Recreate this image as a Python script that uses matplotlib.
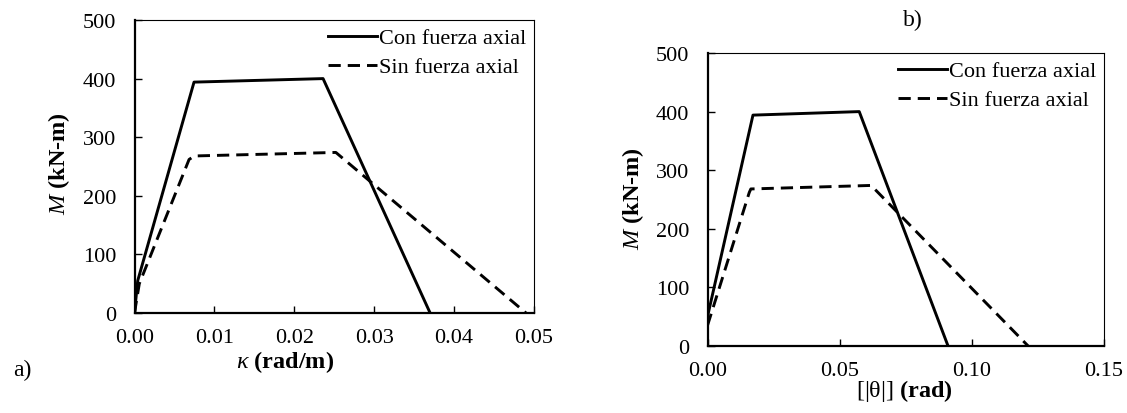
import matplotlib
matplotlib.use("Agg")
import matplotlib.pyplot as plt
from matplotlib.ticker import FormatStrFormatter

plt.rcParams['font.family'] = ['Liberation Serif', 'DejaVu Serif']
plt.rcParams['mathtext.fontset'] = 'custom'
plt.rcParams['mathtext.rm'] = 'Liberation Serif'
plt.rcParams['mathtext.it'] = 'Liberation Serif:italic'
plt.rcParams['mathtext.bf'] = 'Liberation Serif:bold'
plt.rcParams['font.size'] = 16

# a) moment-curvature
kappa_con = [0.0, 0.0004, 0.00745, 0.0236, 0.0370]
m_con_a = [0, 55, 394, 400, 0]
kappa_sin = [0.0, 0.0006, 0.00683, 0.0075, 0.0252, 0.0490]
m_sin_a = [0, 50, 262, 268, 274, 0]

# b) moment-rotation
theta_con = [0.0, 0.0172, 0.0574, 0.0910]
m_con_b = [50, 394, 400, 0]
theta_sin = [0.0, 0.0158, 0.0164, 0.0619, 0.1213]
m_sin_b = [35, 262, 268, 274, 0]

fig = plt.figure(figsize=(11.27, 4.14), dpi=100)
W, H = 1127, 414
ax1 = fig.add_axes([134.5 / W, 1 - 314 / H, 399.5 / W, 293 / H])
ax2 = fig.add_axes([707.5 / W, 1 - 347 / H, 396.5 / W, 293 / H])

dash = (0, (4.2, 2.4))
for ax in (ax1, ax2):
    ax.spines['left'].set_linewidth(1.6)
    ax.spines['bottom'].set_linewidth(1.6)
    ax.spines['top'].set_linewidth(0.8)
    ax.spines['right'].set_linewidth(0.8)
    ax.tick_params(axis='x', direction='in', length=5, width=1.0, pad=11)
    ax.tick_params(axis='y', direction='in', length=5, width=1.0, pad=13)
    ax.set_ylim(0, 500)
    ax.set_yticks([0, 100, 200, 300, 400, 500])

ax1.plot(kappa_con, m_con_a, color='black', lw=2.1, label='Con fuerza axial')
ax1.plot(kappa_sin, m_sin_a, color='black', lw=2.1, linestyle=dash, label='Sin fuerza axial')
ax1.set_xlim(0, 0.05)
ax1.set_xticks([0, 0.01, 0.02, 0.03, 0.04, 0.05])
ax1.xaxis.set_major_formatter(FormatStrFormatter('%.2f'))
ax1.set_xlabel(r'$\mathit{\kappa}$ $\mathbf{(rad/m)}$', fontsize=17.5, va='center')
ax1.xaxis.set_label_coords(0.377, -0.164)
ax1.set_ylabel(r'$\mathit{M}$ $\mathbf{(kN‐m)}$', fontsize=17.5, va='center')
ax1.yaxis.set_label_coords(-0.189, 0.515)

ax2.plot(theta_con, m_con_b, color='black', lw=2.1, label='Con fuerza axial')
ax2.plot(theta_sin, m_sin_b, color='black', lw=2.1, linestyle=dash, label='Sin fuerza axial')
ax2.set_xlim(0, 0.15)
ax2.set_xticks([0, 0.05, 0.10, 0.15])
ax2.xaxis.set_major_formatter(FormatStrFormatter('%.2f'))
ax2.set_xlabel(r'[|θ|] $\mathbf{(rad)}$', fontsize=17.5, va='center')
ax2.xaxis.set_label_coords(0.496, -0.150)
ax2.set_ylabel(r'$\mathit{M}$ $\mathbf{(kN‐m)}$', fontsize=17.5, va='center')
ax2.yaxis.set_label_coords(-0.188, 0.508)

for ax in (ax1, ax2):
    ax.legend(loc='upper right', frameon=False, handlelength=2.2,
              handletextpad=0.1, borderaxespad=0.1, borderpad=0.25,
              labelspacing=0.38, fontsize=16)

fig.text(22 / W, 1 - 370 / H, 'a)', fontsize=17, va='center', ha='center')
fig.text(913 / W, 1 - 20 / H, 'b)', fontsize=17, va='center', ha='center')

fig.savefig('out.png', dpi=100)
